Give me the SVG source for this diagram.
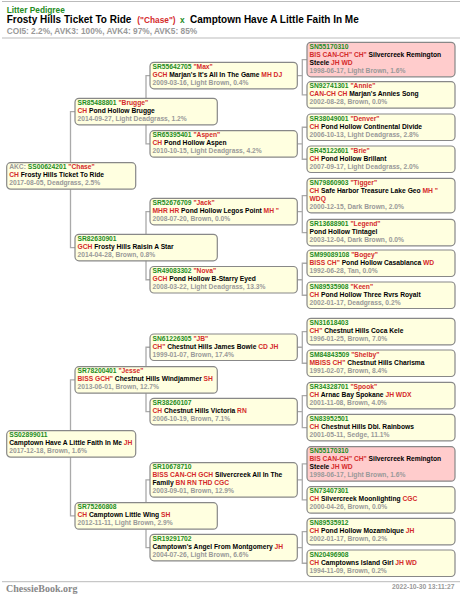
<svg xmlns="http://www.w3.org/2000/svg" width="462" height="600" viewBox="0 0 462 600">
<style>
.bg{fill:#fff}
.hl{stroke:#bbb;stroke-width:1}
.b{fill:#ffffe0;stroke:#888;stroke-width:1.2}
.p{fill:#ffcccc;stroke:#888;stroke-width:1.2}
.c{fill:none;stroke:#aaa;stroke-width:1.3}
text{font-family:"Liberation Sans",Arial,sans-serif;font-weight:bold;font-size:6.7px}
.g{fill:#228b22}.r{fill:#d42a2a}.k{fill:#000}.d{fill:#999}
.h1{font-size:8.3px}.h2{font-size:10px}.h3{font-size:8.3px}
.ft{font-family:"Liberation Serif","Times New Roman",serif;font-size:10px;fill:#888}
</style>
<rect class="bg" x="0" y="0" width="462" height="600"/>
<g id="header">
<line class="hl" x1="2" y1="1.5" x2="460" y2="1.5"/>
<text class="h1 g" x="6.7" y="12.7">Litter Pedigree</text>
<text class="h2 k" x="6.7" y="23.3">Frosty Hills Ticket To Ride</text>
<text class="h1 r" x="137.3" y="23.3">("Chase")</text>
<text class="h1 g" x="180" y="23.3">x</text>
<text class="h2 k" x="190" y="23.3">Camptown Have A Little Faith In Me</text>
<text class="h3 d" x="6.7" y="34.3">COI5: 2.2%, AVK3: 100%, AVK4: 97%, AVK5: 85%</text>
<line class="hl" x1="2" y1="38" x2="460" y2="38"/>
</g>
<g id="connectors">
<path class="c" d="M75 111.55H70.5V247.55H75"/>
<path class="c" d="M75 379.95H70.5V515.95H75"/>
<path class="c" d="M150 75.55H146V143.95H150"/>
<path class="c" d="M150 211.55H146V279.75H150"/>
<path class="c" d="M150 347.25H146V411.55H150"/>
<path class="c" d="M150 479.95H146V547.55H150"/>
<path class="c" d="M297.3 75.55H302.3M307 59.55H302.3V94.95H307"/>
<path class="c" d="M297.3 143.95H302.3M307 127.25H302.3V159.25H307"/>
<path class="c" d="M297.3 211.55H302.3M307 195.55H302.3V232.55H307"/>
<path class="c" d="M297.3 279.75H302.3M307 263.25H302.3V295.25H307"/>
<path class="c" d="M297.3 347.25H302.3M307 331.55H302.3V363.25H307"/>
<path class="c" d="M297.3 411.55H302.3M307 395.55H302.3V427.55H307"/>
<path class="c" d="M297.3 479.95H302.3M307 463.95H302.3V499.95H307"/>
<path class="c" d="M297.3 547.55H302.3M307 531.55H302.3V563.25H307"/>
</g>
<g id="n1"><rect class="b" x="6.7" y="162.7" width="129" height="26.5" rx="4"/>
<text x="9.2" y="169.4"><tspan class="d">AKC: </tspan><tspan class="g">SS00624201</tspan><tspan class="r"> "Chase"</tspan></text>
<text x="9.2" y="177.4"><tspan class="r">CH</tspan><tspan class="k"> Frosty Hills Ticket To Ride</tspan></text>
<text class="d" x="9.2" y="185.4">2017-08-05, Deadgrass, 2.5%</text></g>
<g id="n2"><rect class="b" x="6.7" y="430.7" width="129" height="26.5" rx="4"/>
<text class="g" x="9.2" y="437.4">SS02899011</text>
<text x="9.2" y="445.4"><tspan class="k">Camptown Have A Little Faith In Me</tspan><tspan class="r"> JH</tspan></text>
<text class="d" x="9.2" y="453.4">2017-12-18, Brown, 1.6%</text></g>
<g id="n3"><rect class="b" x="75" y="98.3" width="142.3" height="26.5" rx="4"/>
<text x="77.5" y="105"><tspan class="g">SR85488801</tspan><tspan class="r"> "Brugge"</tspan></text>
<text x="77.5" y="113"><tspan class="r">CH</tspan><tspan class="k"> Pond Hollow Brugge</tspan></text>
<text class="d" x="77.5" y="121">2014-09-27, Light Deadgrass, 1.2%</text></g>
<g id="n4"><rect class="b" x="75" y="234.3" width="142.3" height="26.5" rx="4"/>
<text class="g" x="77.5" y="241">SR82630901</text>
<text x="77.5" y="249"><tspan class="r">GCH</tspan><tspan class="k"> Frosty Hills Raisin A Star</tspan></text>
<text class="d" x="77.5" y="257">2014-04-28, Brown, 0.8%</text></g>
<g id="n5"><rect class="b" x="75" y="366.7" width="142.3" height="26.5" rx="4"/>
<text x="77.5" y="373.4"><tspan class="g">SR78200401</tspan><tspan class="r"> "Jesse"</tspan></text>
<text x="77.5" y="381.4"><tspan class="r">BISS GCH"</tspan><tspan class="k"> Chestnut Hills Windjammer</tspan><tspan class="r"> SH</tspan></text>
<text class="d" x="77.5" y="389.4">2013-06-01, Brown, 12.7%</text></g>
<g id="n6"><rect class="b" x="75" y="502.7" width="142.3" height="26.5" rx="4"/>
<text class="g" x="77.5" y="509.4">SR75260808</text>
<text x="77.5" y="517.4"><tspan class="r">CH</tspan><tspan class="k"> Camptown Little Wing</tspan><tspan class="r"> SH</tspan></text>
<text class="d" x="77.5" y="525.4">2012-11-11, Light Brown, 2.9%</text></g>
<g id="n7"><rect class="b" x="150" y="62.3" width="147.3" height="26.5" rx="4"/>
<text x="152.5" y="69"><tspan class="g">SR55642705</tspan><tspan class="r"> "Max"</tspan></text>
<text x="152.5" y="77"><tspan class="r">GCH</tspan><tspan class="k"> Marjan's It's All In The Game</tspan><tspan class="r"> MH DJ</tspan></text>
<text class="d" x="152.5" y="85">2009-03-16, Light Brown, 0.4%</text></g>
<g id="n8"><rect class="b" x="150" y="130.7" width="147.3" height="26.5" rx="4"/>
<text x="152.5" y="137.4"><tspan class="g">SR65395401</tspan><tspan class="r"> "Aspen"</tspan></text>
<text x="152.5" y="145.4"><tspan class="r">CH</tspan><tspan class="k"> Pond Hollow Aspen</tspan></text>
<text class="d" x="152.5" y="153.4">2010-10-15, Light Deadgrass, 4.2%</text></g>
<g id="n9"><rect class="b" x="150" y="198.3" width="147.3" height="26.5" rx="4"/>
<text x="152.5" y="205"><tspan class="g">SR52676709</tspan><tspan class="r"> "Jack"</tspan></text>
<text x="152.5" y="213"><tspan class="r">MHR HR</tspan><tspan class="k"> Pond Hollow Legos Point</tspan><tspan class="r"> MH "</tspan></text>
<text class="d" x="152.5" y="221">2008-07-20, Brown, 0.0%</text></g>
<g id="n10"><rect class="b" x="150" y="266.5" width="147.3" height="26.5" rx="4"/>
<text x="152.5" y="273.2"><tspan class="g">SR49083302</tspan><tspan class="r"> "Nova"</tspan></text>
<text x="152.5" y="281.2"><tspan class="r">GCH</tspan><tspan class="k"> Pond Hollow B-Starry Eyed</tspan></text>
<text class="d" x="152.5" y="289.2">2008-03-22, Light Deadgrass, 13.3%</text></g>
<g id="n11"><rect class="b" x="150" y="334" width="147.3" height="26.5" rx="4"/>
<text x="152.5" y="340.7"><tspan class="g">SN61226305</tspan><tspan class="r"> "JB"</tspan></text>
<text x="152.5" y="348.7"><tspan class="r">CH"</tspan><tspan class="k"> Chestnut Hills James Bowie</tspan><tspan class="r"> CD JH</tspan></text>
<text class="d" x="152.5" y="356.7">1999-01-07, Brown, 17.4%</text></g>
<g id="n12"><rect class="b" x="150" y="398.3" width="147.3" height="26.5" rx="4"/>
<text class="g" x="152.5" y="405">SR38260107</text>
<text x="152.5" y="413"><tspan class="r">CH</tspan><tspan class="k"> Chestnut Hills Victoria</tspan><tspan class="r"> RN</tspan></text>
<text class="d" x="152.5" y="421">2006-10-19, Brown, 7.1%</text></g>
<g id="n13"><rect class="b" x="150" y="462.7" width="147.3" height="34.5" rx="4"/>
<text class="g" x="152.5" y="469.4">SR10678710</text>
<text x="152.5" y="477.4"><tspan class="r">BISS CAN-CH GCH</tspan><tspan class="k"> Silvercreek All In The</tspan></text>
<text x="152.5" y="485.4"><tspan class="k">Family</tspan><tspan class="r"> BN RN THD CGC</tspan></text>
<text class="d" x="152.5" y="493.4">2003-09-01, Brown, 12.9%</text></g>
<g id="n14"><rect class="b" x="150" y="534.3" width="147.3" height="26.5" rx="4"/>
<text class="g" x="152.5" y="541">SR19291702</text>
<text x="152.5" y="549"><tspan class="k">Camptown's Angel From Montgomery</tspan><tspan class="r"> JH</tspan></text>
<text class="d" x="152.5" y="557">2004-07-26, Light Brown, 6.6%</text></g>
<g id="n15"><rect class="p" x="307" y="42.3" width="148" height="34.5" rx="4"/>
<text class="g" x="309.5" y="49">SN55170310</text>
<text x="309.5" y="57"><tspan class="r">BIS CAN-CH" CH"</tspan><tspan class="k"> Silvercreek Remington</tspan></text>
<text x="309.5" y="65"><tspan class="k">Steele</tspan><tspan class="r"> JH WD</tspan></text>
<text class="d" x="309.5" y="73">1998-06-17, Light Brown, 1.6%</text></g>
<g id="n16"><rect class="b" x="307" y="81.7" width="148" height="26.5" rx="4"/>
<text x="309.5" y="88.4"><tspan class="g">SN92741301</tspan><tspan class="r"> "Annie"</tspan></text>
<text x="309.5" y="96.4"><tspan class="r">CAN-CH CH</tspan><tspan class="k"> Marjan's Annies Song</tspan></text>
<text class="d" x="309.5" y="104.4">2002-08-28, Brown, 0.0%</text></g>
<g id="n17"><rect class="b" x="307" y="114" width="148" height="26.5" rx="4"/>
<text x="309.5" y="120.7"><tspan class="g">SR38049001</tspan><tspan class="r"> "Denver"</tspan></text>
<text x="309.5" y="128.7"><tspan class="r">CH</tspan><tspan class="k"> Pond Hollow Continental Divide</tspan></text>
<text class="d" x="309.5" y="136.7">2006-10-13, Light Deadgrass, 2.8%</text></g>
<g id="n18"><rect class="b" x="307" y="146" width="148" height="26.5" rx="4"/>
<text x="309.5" y="152.7"><tspan class="g">SR45122601</tspan><tspan class="r"> "Brie"</tspan></text>
<text x="309.5" y="160.7"><tspan class="r">CH</tspan><tspan class="k"> Pond Hollow Brillant</tspan></text>
<text class="d" x="309.5" y="168.7">2007-09-17, Light Deadgrass, 2.0%</text></g>
<g id="n19"><rect class="b" x="307" y="178.3" width="148" height="34.5" rx="4"/>
<text x="309.5" y="185"><tspan class="g">SN79860903</tspan><tspan class="r"> "Tigger"</tspan></text>
<text x="309.5" y="193"><tspan class="r">CH</tspan><tspan class="k"> Safe Harbor Treasure Lake Geo</tspan><tspan class="r"> MH "</tspan></text>
<text class="r" x="309.5" y="201">WDQ</text>
<text class="d" x="309.5" y="209">2000-12-15, Dark Brown, 2.0%</text></g>
<g id="n20"><rect class="b" x="307" y="219.3" width="148" height="26.5" rx="4"/>
<text x="309.5" y="226"><tspan class="g">SR13688901</tspan><tspan class="r"> "Legend"</tspan></text>
<text class="k" x="309.5" y="234">Pond Hollow Tintagel</text>
<text class="d" x="309.5" y="242">2003-12-04, Dark Brown, 0.0%</text></g>
<g id="n21"><rect class="b" x="307" y="250" width="148" height="26.5" rx="4"/>
<text x="309.5" y="256.7"><tspan class="g">SM99089108</tspan><tspan class="r"> "Bogey"</tspan></text>
<text x="309.5" y="264.7"><tspan class="r">BISS CH"</tspan><tspan class="k"> Pond Hollow Casablanca</tspan><tspan class="r"> WD</tspan></text>
<text class="d" x="309.5" y="272.7">1992-06-28, Tan, 0.0%</text></g>
<g id="n22"><rect class="b" x="307" y="282" width="148" height="26.5" rx="4"/>
<text x="309.5" y="288.7"><tspan class="g">SN89535908</tspan><tspan class="r"> "Keen"</tspan></text>
<text x="309.5" y="296.7"><tspan class="r">CH</tspan><tspan class="k"> Pond Hollow Three Rvrs Royalt</tspan></text>
<text class="d" x="309.5" y="304.7">2002-01-17, Deadgrass, 0.2%</text></g>
<g id="n23"><rect class="b" x="307" y="318.3" width="148" height="26.5" rx="4"/>
<text class="g" x="309.5" y="325">SN31618403</text>
<text x="309.5" y="333"><tspan class="r">CH"</tspan><tspan class="k"> Chestnut Hills Coca Kele</tspan></text>
<text class="d" x="309.5" y="341">1996-01-25, Brown, 7.0%</text></g>
<g id="n24"><rect class="b" x="307" y="350" width="148" height="26.5" rx="4"/>
<text x="309.5" y="356.7"><tspan class="g">SM84843509</tspan><tspan class="r"> "Shelby"</tspan></text>
<text x="309.5" y="364.7"><tspan class="r">MBISS CH"</tspan><tspan class="k"> Chestnut Hills Charisma</tspan></text>
<text class="d" x="309.5" y="372.7">1991-02-07, Brown, 8.4%</text></g>
<g id="n25"><rect class="b" x="307" y="382.3" width="148" height="26.5" rx="4"/>
<text x="309.5" y="389"><tspan class="g">SR34328701</tspan><tspan class="r"> "Spook"</tspan></text>
<text x="309.5" y="397"><tspan class="r">CH</tspan><tspan class="k"> Arnac Bay Spokane</tspan><tspan class="r"> JH WDX</tspan></text>
<text class="d" x="309.5" y="405">2001-11-08, Brown, 4.0%</text></g>
<g id="n26"><rect class="b" x="307" y="414.3" width="148" height="26.5" rx="4"/>
<text class="g" x="309.5" y="421">SN83952501</text>
<text x="309.5" y="429"><tspan class="r">CH</tspan><tspan class="k"> Chestnut Hills Dbl. Rainbows</tspan></text>
<text class="d" x="309.5" y="437">2001-05-11, Sedge, 11.1%</text></g>
<g id="n27"><rect class="p" x="307" y="446.7" width="148" height="34.5" rx="4"/>
<text class="g" x="309.5" y="453.4">SN55170310</text>
<text x="309.5" y="461.4"><tspan class="r">BIS CAN-CH" CH"</tspan><tspan class="k"> Silvercreek Remington</tspan></text>
<text x="309.5" y="469.4"><tspan class="k">Steele</tspan><tspan class="r"> JH WD</tspan></text>
<text class="d" x="309.5" y="477.4">1998-06-17, Light Brown, 1.6%</text></g>
<g id="n28"><rect class="b" x="307" y="486.7" width="148" height="26.5" rx="4"/>
<text class="g" x="309.5" y="493.4">SN73407301</text>
<text x="309.5" y="501.4"><tspan class="r">CH</tspan><tspan class="k"> Silvercreek Moonlighting</tspan><tspan class="r"> CGC</tspan></text>
<text class="d" x="309.5" y="509.4">2000-04-26, Brown, 0.0%</text></g>
<g id="n29"><rect class="b" x="307" y="518.3" width="148" height="26.5" rx="4"/>
<text class="g" x="309.5" y="525">SN89535912</text>
<text x="309.5" y="533"><tspan class="r">CH</tspan><tspan class="k"> Pond Hollow Mozambique</tspan><tspan class="r"> JH</tspan></text>
<text class="d" x="309.5" y="541">2002-01-17, Brown, 0.2%</text></g>
<g id="n30"><rect class="b" x="307" y="550" width="148" height="26.5" rx="4"/>
<text class="g" x="309.5" y="556.7">SN20496908</text>
<text x="309.5" y="564.7"><tspan class="r">CH</tspan><tspan class="k"> Camptowns Island Girl</tspan><tspan class="r"> JH WD</tspan></text>
<text class="d" x="309.5" y="572.7">1994-11-09, Brown, 0.2%</text></g>
<g id="footer">
<line class="hl" x1="2" y1="581.7" x2="460" y2="581.7"/>
<text class="ft" x="6" y="592">ChessieBook.org</text>
<text class="d" x="454.5" y="589" text-anchor="end">2022-10-30 13:11:27</text>
</g>
</svg>
